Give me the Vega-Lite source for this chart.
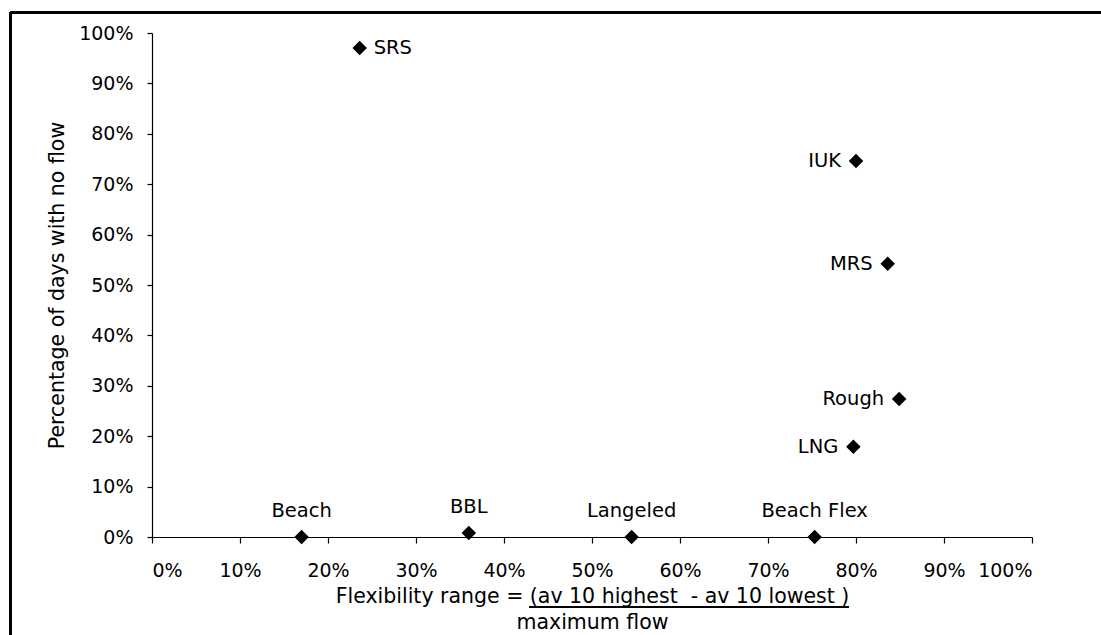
{
  "$schema": "https://vega.github.io/schema/vega-lite/v6.json",
  "width": 880,
  "height": 504,
  "autosize": {"type": "none"},
  "padding": {"left": 152, "top": 33, "right": 69, "bottom": 98},
  "background": "white",
  "config": {
    "view": {"stroke": null},
    "font": "DejaVu Sans",
    "axis": {
      "grid": false,
      "domainColor": "black",
      "tickColor": "black",
      "labelColor": "black",
      "titleColor": "black",
      "labelFont": "DejaVu Sans",
      "titleFont": "DejaVu Sans",
      "labelFontSize": 19,
      "titleFontSize": 20.5,
      "titleFontWeight": "normal",
      "domainWidth": 1.2,
      "tickWidth": 1.2
    }
  },
  "data": {
    "values": [
      {"name": "SRS", "flex": 0.236, "nofl": 0.970},
      {"name": "IUK", "flex": 0.800, "nofl": 0.746},
      {"name": "MRS", "flex": 0.836, "nofl": 0.542},
      {"name": "Rough", "flex": 0.849, "nofl": 0.274},
      {"name": "LNG", "flex": 0.797, "nofl": 0.179},
      {"name": "Beach", "flex": 0.170, "nofl": 0.0},
      {"name": "BBL", "flex": 0.360, "nofl": 0.008},
      {"name": "Langeled", "flex": 0.545, "nofl": 0.0},
      {"name": "Beach Flex", "flex": 0.753, "nofl": 0.0}
    ]
  },
  "layer": [
    {
      "mark": {"type": "rule", "clip": false, "color": "black", "strokeWidth": 2.6},
      "encoding": {
        "x": {"datum": -0.161, "type": "quantitative"},
        "y": {"datum": 1.0401, "type": "quantitative"},
        "y2": {"datum": -0.3}
      }
    },
    {
      "mark": {"type": "rule", "clip": false, "color": "black", "strokeWidth": 2.4},
      "encoding": {
        "y": {"datum": 1.0401, "type": "quantitative"},
        "x": {"datum": -0.161, "type": "quantitative"},
        "x2": {"datum": 1.2}
      }
    },
    {
      "mark": {"type": "rule", "clip": false, "color": "black", "strokeWidth": 1.5},
      "encoding": {
        "y": {"datum": -0.1389, "type": "quantitative"},
        "x": {"datum": 0.4284, "type": "quantitative"},
        "x2": {"datum": 0.792}
      }
    },
    {
      "mark": {"type": "point", "shape": "diamond", "filled": true, "color": "black", "opacity": 1, "size": 210},
      "encoding": {
        "x": {
          "field": "flex",
          "type": "quantitative",
          "scale": {"domain": [0, 1], "nice": false, "zero": false},
          "axis": {
            "values": [0, 0.1, 0.2, 0.3, 0.4, 0.5, 0.6, 0.7, 0.8, 0.9, 1],
            "format": ".0%",
            "tickSize": 6,
            "labelPadding": 18,
            "title": ["Flexibility range = (av 10 highest\u00a0 - av 10 lowest )", "maximum flow"],
            "titleBaseline": "alphabetic",
            "titleY": 65,
            "titleLineHeight": 26
          }
        },
        "y": {
          "field": "nofl",
          "type": "quantitative",
          "scale": {"domain": [0, 1], "nice": false, "zero": false},
          "axis": {
            "values": [0, 0.1, 0.2, 0.3, 0.4, 0.5, 0.6, 0.7, 0.8, 0.9, 1],
            "format": ".0%",
            "tickSize": 5,
            "labelPadding": 14,
            "title": "Percentage of days with no flow",
            "titleBaseline": "middle",
            "titleX": -95
          }
        }
      }
    },
    {
      "transform": [{"filter": "datum.name == 'SRS'"}],
      "mark": {"type": "text", "align": "left", "baseline": "middle", "dx": 14, "fontSize": 19.5, "color": "black"},
      "encoding": {
        "x": {"field": "flex", "type": "quantitative"},
        "y": {"field": "nofl", "type": "quantitative"},
        "text": {"field": "name"}
      }
    },
    {
      "transform": [{"filter": {"field": "name", "oneOf": ["IUK", "MRS", "Rough", "LNG"]}}],
      "mark": {"type": "text", "align": "right", "baseline": "middle", "dx": -15, "fontSize": 19.5, "color": "black"},
      "encoding": {
        "x": {"field": "flex", "type": "quantitative"},
        "y": {"field": "nofl", "type": "quantitative"},
        "text": {"field": "name"}
      }
    },
    {
      "transform": [{"filter": {"field": "name", "oneOf": ["Beach", "BBL", "Langeled", "Beach Flex"]}}],
      "mark": {"type": "text", "align": "center", "baseline": "alphabetic", "dy": -20, "fontSize": 19.5, "color": "black"},
      "encoding": {
        "x": {"field": "flex", "type": "quantitative"},
        "y": {"field": "nofl", "type": "quantitative"},
        "text": {"field": "name"}
      }
    }
  ]
}
